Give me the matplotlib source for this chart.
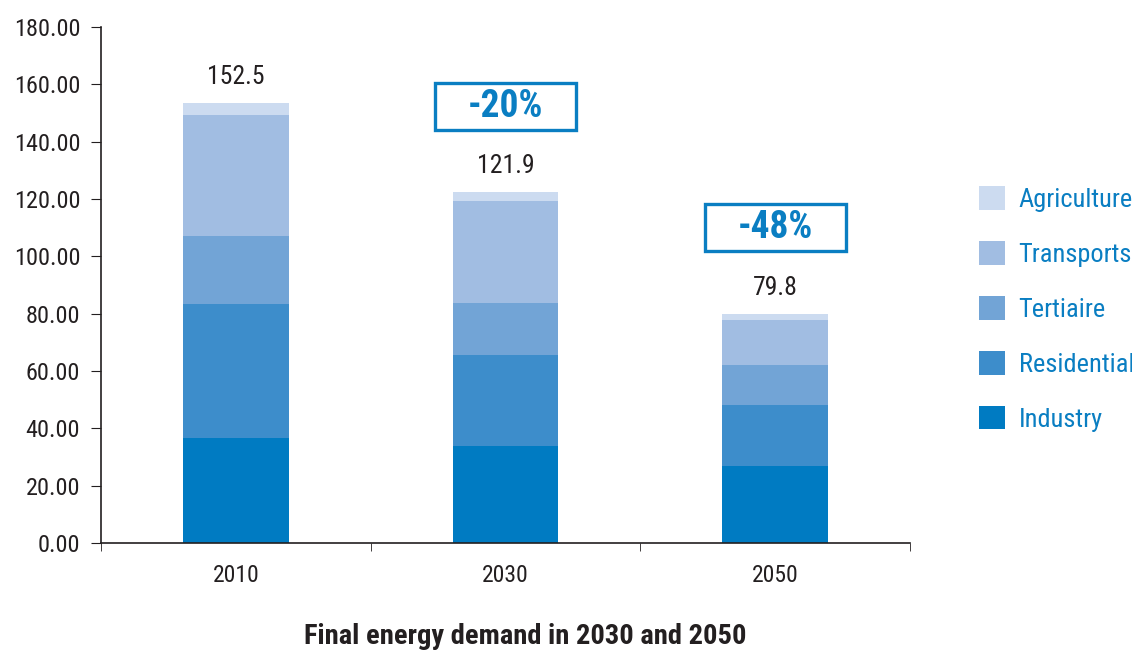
import matplotlib
matplotlib.use('Agg')
import matplotlib.pyplot as plt
from matplotlib import font_manager
from matplotlib.patches import Rectangle
import numpy as np

# pick a condensed sans if one is installed
names = {f.name for f in font_manager.fontManager.ttflist}
fam = 'DejaVu Sans'
for cand in ['Roboto Condensed', 'Liberation Sans Narrow', 'Archivo Narrow', 'PT Sans Narrow',
             'IBM Plex Sans Condensed', 'Fira Sans Condensed', 'Asap Condensed', 'Encode Sans Condensed']:
    if cand in names:
        fam = cand
        break
plt.rcParams['font.family'] = [fam, 'DejaVu Sans']

years = ['2010', '2030', '2050']
sectors = ['Industry', 'Residential', 'Tertiaire', 'Transports', 'Agriculture']
industry = [36.7, 33.9, 27.0]
residential = [46.7, 31.7, 21.1]
tertiaire = [23.7, 18.1, 14.0]
transports = [42.2, 35.6, 15.7]
agriculture = [4.1, 3.1, 2.1]
totals = [152.5, 121.9, 79.8]
reductions = ['-20%', '-48%']
box_y = [152.4, 109.9]

colors = ['#007bc2', '#3d8dcb', '#72a4d6', '#a1bde2', '#ccdbf0']
blue_txt = '#0a7ec2'
dark = '#231f20'

fig = plt.figure(figsize=(11.32, 6.5), dpi=100)
ax = fig.add_axes([0.0892, 0.1646, 0.8039 - 0.0892, 0.9585 - 0.1646])

x = np.arange(len(years))
bottom = np.zeros(len(years))
handles = []
for vals, name, c in zip([industry, residential, tertiaire, transports, agriculture], sectors, colors):
    h = ax.bar(x, vals, 0.393, bottom=bottom, color=c, label=name, linewidth=0)
    handles.append(h)
    bottom += np.array(vals)

for xi, t in zip(x, bottom):
    ax.annotate(f'{totals[xi]:.1f}', (xi, t), xytext=(0, 10), textcoords='offset points',
                ha='center', va='bottom', fontsize=18.5, color=dark)

# reduction boxes
for xi, lab, yb in zip(x[1:], reductions, box_y):
    ax.add_patch(Rectangle((xi - 0.262, yb - 8.2), 0.524, 16.4, fc='white', ec=blue_txt, lw=2.4, zorder=3))
    ax.text(xi, yb, lab, ha='center', va='center', fontsize=27, fontweight='bold', color=blue_txt, zorder=4)

ax.set_xlim(-0.5, 2.5)
ax.set_ylim(0, 180)
ax.set_yticks(np.arange(0, 181, 20))
ax.set_yticklabels([f'{v:.2f}' for v in np.arange(0, 181, 20)])
ax.set_xticks(x)
ax.set_xticklabels(years)
ax.set_xticks([-0.5, 0.5, 1.5, 2.5], minor=True)
ax.tick_params(axis='x', which='major', length=0, pad=15, labelsize=17, labelcolor=dark)
ax.tick_params(axis='x', which='minor', length=6, direction='out', color=dark)
ax.tick_params(axis='y', length=7, direction='out', labelsize=17.5, labelcolor=dark, color=dark, pad=8)
for s in ['top', 'right']:
    ax.spines[s].set_visible(False)
for s in ['left', 'bottom']:
    ax.spines[s].set_color(dark)
    ax.spines[s].set_linewidth(1.2)

leg = fig.legend(handles[::-1], sectors[::-1], loc='center left', bbox_to_anchor=(979 / 1132, 0.5246),
                 frameon=False, fontsize=19, handlelength=1.0, handleheight=1.0,
                 labelspacing=1.1, handletextpad=0.5, borderpad=0, borderaxespad=0)
for t in leg.get_texts():
    t.set_color(blue_txt)

fig.text(0.464, 0.02, 'Final energy demand in 2030 and 2050', ha='center', va='center',
         fontsize=20.5, fontweight='bold', color=dark)

fig.savefig('out.png', dpi=100)
